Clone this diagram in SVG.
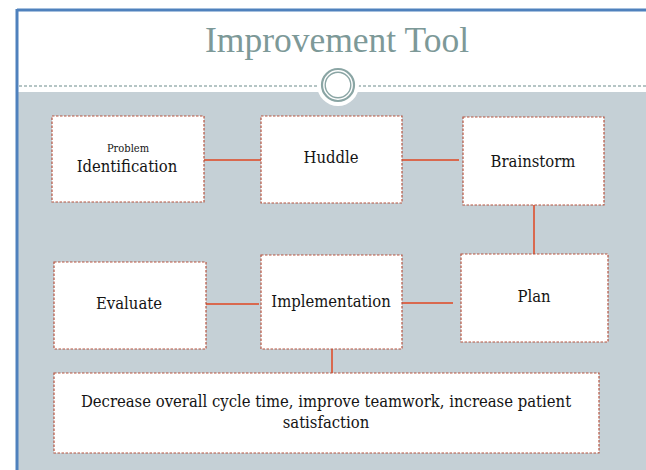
<svg xmlns="http://www.w3.org/2000/svg" width="646" height="470" viewBox="0 0 646 470">
  <style>
    .node rect { fill: #ffffff; stroke: #b5533f; stroke-width: 1.2; stroke-dasharray: 2.5 1.5; }
    .node text { font-family: "DejaVu Serif Condensed", "DejaVu Serif", "Liberation Serif", serif; font-stretch: condensed; font-size: 16.5px; fill: #141414; text-anchor: middle; }
    .node text.small { font-size: 11px; }
    .link { stroke: #d9694f; stroke-width: 2; fill: none; }
  </style>

  <!-- slide background and frame -->
  <rect x="0" y="0" width="646" height="470" fill="#ffffff"/>
  <rect x="18" y="92" width="628" height="378" fill="#c5d0d6"/>
  <line x1="17" y1="10" x2="646" y2="10" stroke="#4f81bd" stroke-width="3"/>
  <line x1="17" y1="9" x2="17" y2="470" stroke="#4f81bd" stroke-width="3"/>

  <!-- title -->
  <text x="337" y="52" font-family="Liberation Serif, serif" font-size="35.5" fill="#7d9998" text-anchor="middle">Improvement Tool</text>

  <!-- divider with ring ornament -->
  <line x1="19" y1="86" x2="318" y2="86" stroke="#9db3b2" stroke-width="1.5" stroke-dasharray="3 2"/>
  <line x1="358" y1="86" x2="646" y2="86" stroke="#9db3b2" stroke-width="1.5" stroke-dasharray="3 2"/>
  <circle cx="338" cy="85" r="21" fill="#ffffff"/>
  <circle cx="338" cy="85" r="16" fill="none" stroke="#8aa5a4" stroke-width="2.2"/>
  <circle cx="338" cy="85" r="12.8" fill="none" stroke="#8aa5a4" stroke-width="1.4"/>

  <!-- connectors -->
  <g id="connectors">
    <line class="link" x1="204" y1="160" x2="261" y2="160"/>
    <line class="link" x1="402" y1="160" x2="459" y2="160"/>
    <line class="link" x1="534" y1="205" x2="534" y2="254"/>
    <line class="link" x1="402" y1="303" x2="453" y2="303"/>
    <line class="link" x1="206" y1="304" x2="259" y2="304"/>
    <line class="link" x1="332" y1="349" x2="332" y2="373"/>
  </g>

  <!-- nodes -->
  <g id="problem-identification" class="node">
    <rect x="52" y="116" width="152" height="86"/>
    <text class="small" x="128" y="152">Problem</text>
    <text x="127" y="172">Identification</text>
  </g>
  <g id="huddle" class="node">
    <rect x="261" y="116" width="141" height="87"/>
    <text x="331" y="163">Huddle</text>
  </g>
  <g id="brainstorm" class="node">
    <rect x="463" y="117" width="141" height="88"/>
    <text x="533" y="167">Brainstorm</text>
  </g>
  <g id="evaluate" class="node">
    <rect x="54" y="262" width="152" height="87"/>
    <text x="129" y="309">Evaluate</text>
  </g>
  <g id="implementation" class="node">
    <rect x="261" y="255" width="141" height="94"/>
    <text x="331" y="307">Implementation</text>
  </g>
  <g id="plan" class="node">
    <rect x="461" y="254" width="147" height="88"/>
    <text x="534" y="302">Plan</text>
  </g>
  <g id="goal" class="node">
    <rect x="54" y="373" width="545" height="80"/>
    <text x="326" y="407">Decrease overall cycle time, improve teamwork, increase patient</text>
    <text x="326" y="428">satisfaction</text>
  </g>
</svg>
